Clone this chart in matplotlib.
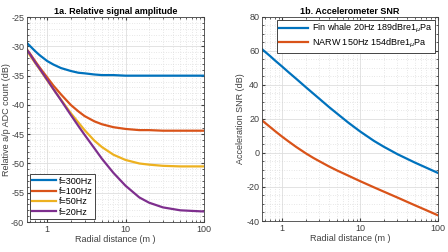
import matplotlib
matplotlib.use("Agg")
import matplotlib.pyplot as plt
from matplotlib.ticker import AutoMinorLocator, FixedLocator, LogLocator, NullFormatter

# radial distance grid (m)
r = [0.55, 0.6, 0.7, 0.8, 1, 1.2, 1.5, 2, 2.5, 3, 4, 5, 7, 10, 15, 20, 30, 50, 70, 100]

# 1a. relative a/p ADC count (dB)
amp_300 = [-29.4, -29.9, -30.8, -31.5, -32.5, -33.1, -33.7, -34.2, -34.5, -34.6, -34.8, -34.9,
           -34.9, -35.0, -35.0, -35.0, -35.0, -35.0, -35.0, -35.0]
amp_100 = [-30.5, -31.2, -32.5, -33.6, -35.3, -36.7, -38.2, -40.0, -41.1, -41.9, -42.8, -43.3,
           -43.8, -44.1, -44.3, -44.3, -44.4, -44.4, -44.4, -44.4]
amp_50 = [-30.7, -31.5, -32.8, -33.9, -35.8, -37.3, -39.1, -41.4, -43.0, -44.3, -46.1, -47.2,
          -48.5, -49.4, -50.0, -50.2, -50.4, -50.5, -50.5, -50.5]
amp_20 = [-30.6, -31.3, -32.7, -33.8, -35.7, -37.3, -39.2, -41.7, -43.6, -45.1, -47.4, -49.2,
          -51.6, -53.8, -55.8, -56.7, -57.5, -58.0, -58.1, -58.2]
amp_labels = ["f=300Hz", "f=100Hz", "f=50Hz", "f=20Hz"]

# 1b. accelerometer SNR (dB)
snr_fin = [61.0, 59.5, 56.9, 54.5, 50.7, 47.5, 43.7, 38.7, 34.9, 31.8, 26.9, 23.3,
           17.9, 12.6, 7.1, 3.7, -0.7, -5.6, -8.6, -11.8]
snr_narw = [19.1, 17.7, 15.2, 13.0, 9.5, 6.8, 3.6, -0.2, -2.9, -4.9, -8.0, -10.2,
            -13.3, -16.6, -20.2, -22.7, -26.2, -30.7, -33.6, -36.7]
snr_labels = [r"Fin whale 20Hz 189dBre1$_{\mu}$Pa", r"NARW 150Hz 154dBre1$_{\mu}$Pa"]

colors = ["#0072BD", "#D95319", "#EDB120", "#7E2F8E"]

plt.rcParams["font.family"] = ["Liberation Sans", "DejaVu Sans"]
plt.rcParams["mathtext.fontset"] = "dejavusans"
plt.rcParams["axes.unicode_minus"] = False

fig = plt.figure(figsize=(4.48, 2.52), dpi=100)
ax1 = fig.add_axes([0.060, 0.119, 0.395, 0.813])
ax2 = fig.add_axes([0.585, 0.123, 0.393, 0.810])


def style(ax):
    ax.set_xscale("log")
    ax.set_xlim(0.55, 100)
    ax.xaxis.set_major_locator(FixedLocator([1, 10, 100]))
    ax.set_xticklabels(["1", "10", "100"])
    ax.xaxis.set_minor_locator(LogLocator(base=10, subs=range(2, 10)))
    ax.xaxis.set_minor_formatter(NullFormatter())
    ax.yaxis.set_minor_locator(AutoMinorLocator(5))
    ax.grid(which="major", color="0.87", lw=0.6)
    ax.grid(which="minor", color="0.82", lw=0.5, ls=(0, (1, 2.5)))
    ax.set_axisbelow(True)
    ax.tick_params(which="both", direction="in", top=True, right=True,
                   labelsize=6.5, colors="0.25", length=2.5, pad=2)
    ax.tick_params(which="minor", length=1.2)
    for s in ax.spines.values():
        s.set_color("0.25")
        s.set_linewidth(0.6)
    ax.set_xlabel("Radial distance (m )", fontsize=6.5, color="0.25", labelpad=1)


for vals, lab, c in zip([amp_300, amp_100, amp_50, amp_20], amp_labels, colors):
    ax1.plot(r, vals, color=c, lw=1.6, label=lab)
style(ax1)
ax1.set_ylim(-60, -25)
ax1.set_yticks(range(-60, -24, 5))
ax1.set_ylabel("Relative a/p ADC count (dB)", fontsize=6.5, color="0.25", labelpad=0)
ax1.set_title("1a. Relative signal amplitude", fontsize=6.5, fontweight="bold", pad=2)
leg1 = ax1.legend(loc="lower left", fontsize=6.5, handlelength=2.6, handletextpad=0.3,
                  borderpad=0.3, labelspacing=0.15, fancybox=False, framealpha=1,
                  borderaxespad=0.3)
leg1.get_frame().set_edgecolor("0.15")
leg1.get_frame().set_linewidth(0.6)

ax2.plot(r, snr_fin, color=colors[0], lw=1.6, label=snr_labels[0])
ax2.plot(r, snr_narw, color=colors[1], lw=1.6, label=snr_labels[1])
style(ax2)
ax2.set_ylim(-40, 80)
ax2.set_yticks(range(-40, 81, 20))
ax2.yaxis.set_minor_locator(AutoMinorLocator(4))
ax2.set_ylabel("Acceleration SNR (dB)", fontsize=6.5, color="0.25", labelpad=1)
ax2.set_title("1b. Accelerometer SNR", fontsize=6.5, fontweight="bold", pad=2)
leg2 = ax2.legend(loc="upper right", fontsize=6.5, handlelength=3.2, handletextpad=0.4,
                  borderpad=0.3, labelspacing=0.15, fancybox=False, framealpha=1,
                  borderaxespad=0.3)
leg2.get_frame().set_edgecolor("0.15")
leg2.get_frame().set_linewidth(0.6)

fig.savefig("out.png", dpi=100)
